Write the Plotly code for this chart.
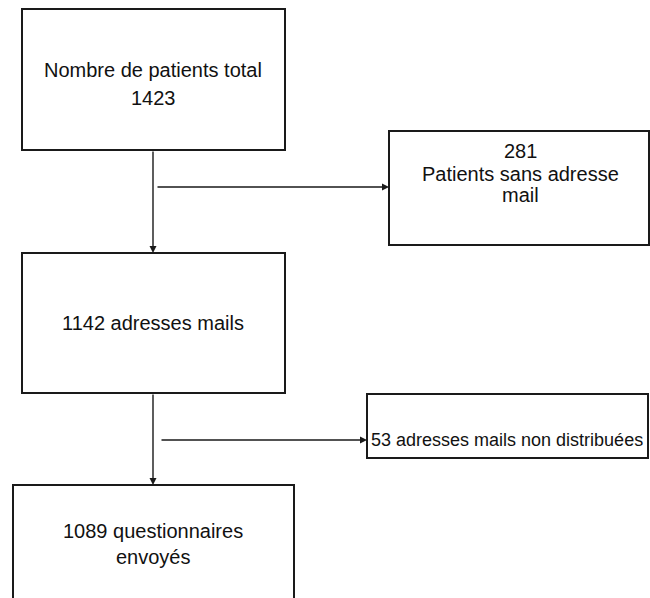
import plotly.graph_objects as go

# ---- content ----
box_names = ["total", "sans_mail", "mails", "non_distrib", "envoyes"]
box_lines = [
    ["Nombre de patients total", "1423"],
    ["281", "Patients sans adresse", "mail"],
    ["1142 adresses mails"],
    ["53 adresses mails non distribuées"],
    ["1089 questionnaires", "envoyés"],
]

# ---- layout (pixel-like coordinates, y downward) ----
box_rects = [  # x0, y0, x1, y1
    (22, 9, 285, 150),
    (389, 131, 649, 245),
    (22, 253, 285, 393),
    (367, 394, 648, 458),
    (13, 485, 294, 610),
]
line_y = [
    [70, 98],
    [151, 174, 195],
    [323],
    [440],
    [531, 557],
]
box_cx = [153, 520, 153, 507, 153]
font_sizes = [20, 20, 20, 18, 20]

stem_x = 153
arrows = [  # (tail x, tail y, head x, head y)
    (stem_x, 150, stem_x, 253),
    (156, 187, 389, 187),
    (stem_x, 393, stem_x, 485),
    (160, 440, 367, 440),
]

LC = "#1a1a1a"
fig = go.Figure()
fig.add_trace(go.Scatter(x=[0, 650], y=[0, 598], mode="markers",
                         marker=dict(opacity=0), hoverinfo="skip", showlegend=False))

for (x0, y0, x1, y1) in box_rects:
    fig.add_shape(type="rect", x0=x0, y0=y0, x1=x1, y1=y1,
                  line=dict(color=LC, width=2), fillcolor="white", layer="below")

for lines, ys, cx, fs in zip(box_lines, line_y, box_cx, font_sizes):
    for t, y in zip(lines, ys):
        fig.add_annotation(x=cx, y=y, text=t, showarrow=False,
                           xanchor="center", yanchor="middle",
                           font=dict(family="Liberation Sans, Arial", size=fs, color="#111"))

for (tx, ty, hx, hy) in arrows:
    fig.add_annotation(x=hx, y=hy, ax=tx, ay=ty, xref="x", yref="y",
                       axref="x", ayref="y", text="", showarrow=True,
                       arrowhead=2, arrowsize=1.0, arrowwidth=1.4, arrowcolor=LC,
                       standoff=0, startstandoff=0)

fig.update_layout(
    width=650, height=598,
    margin=dict(l=0, r=0, t=0, b=0),
    paper_bgcolor="white", plot_bgcolor="white",
    xaxis=dict(range=[0, 650], visible=False, fixedrange=True),
    yaxis=dict(range=[598, 0], visible=False, fixedrange=True),
    showlegend=False,
)
fig.write_html("out.html",
               config={"displayModeBar": False},
               post_script="document.body.style.margin='0';document.body.style.overflow='hidden';")
